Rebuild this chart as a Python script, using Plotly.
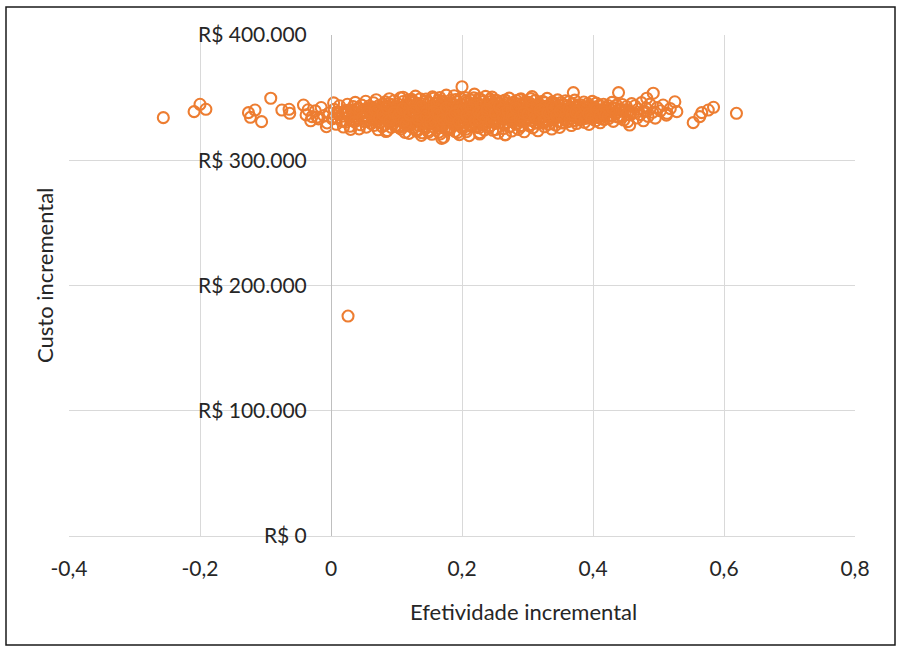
import plotly.graph_objects as go

# Incremental effectiveness (x) and incremental cost in thousands of R$ (y),
# one entry per probabilistic simulation; rows of the two lists line up.
effect = [
    # far left tail
    -0.256, -0.209, -0.200, -0.191, -0.126, -0.123, -0.116, -0.106, -0.092, -0.075,
    -0.064, -0.063, -0.042, -0.029, -0.007,
    # -0.04 .. 0.00
    -0.038, -0.031, -0.024, -0.019, -0.015, -0.011, -0.006, -0.003, -0.035, -0.021,
    # 0.00 .. 0.02
    0.002, 0.005, 0.008, 0.011, 0.013, 0.016, 0.018, 0.004, 0.009, 0.019,
    # 0.02 .. 0.04
    0.021, 0.023, 0.025, 0.027, 0.029, 0.031, 0.033, 0.035, 0.037, 0.039,
    0.024, 0.030, 0.034, 0.038,
    # 0.04 .. 0.06
    0.041, 0.042, 0.044, 0.045, 0.047, 0.048, 0.050, 0.051, 0.053, 0.054,
    0.055, 0.056, 0.057, 0.058, 0.059, 0.043, 0.049, 0.052,
    # 0.06 .. 0.08
    0.061, 0.062, 0.063, 0.064, 0.065, 0.066, 0.067, 0.068, 0.069, 0.070,
    0.071, 0.072, 0.073, 0.074, 0.075, 0.076, 0.077, 0.078, 0.079, 0.060,
    0.066, 0.072,
    # 0.08 .. 0.10
    0.080, 0.081, 0.082, 0.083, 0.084, 0.085, 0.086, 0.087, 0.088, 0.089,
    0.090, 0.091, 0.092, 0.093, 0.094, 0.095, 0.096, 0.097, 0.098, 0.099,
    0.081, 0.084, 0.088, 0.091, 0.095, 0.098,
    # 0.10 .. 0.12
    0.100, 0.101, 0.102, 0.103, 0.104, 0.105, 0.106, 0.107, 0.108, 0.109,
    0.110, 0.111, 0.112, 0.113, 0.114, 0.115, 0.116, 0.117, 0.118, 0.119,
    0.101, 0.104, 0.107, 0.110, 0.113, 0.116, 0.119, 0.106,
    # 0.12 .. 0.14
    0.120, 0.121, 0.122, 0.123, 0.124, 0.125, 0.126, 0.127, 0.128, 0.129,
    0.130, 0.131, 0.132, 0.133, 0.134, 0.135, 0.136, 0.137, 0.138, 0.139,
    0.121, 0.124, 0.126, 0.128, 0.131, 0.133, 0.135, 0.137, 0.139, 0.123,
    # 0.14 .. 0.16
    0.140, 0.141, 0.142, 0.143, 0.144, 0.145, 0.146, 0.147, 0.148, 0.149,
    0.150, 0.151, 0.152, 0.153, 0.154, 0.155, 0.156, 0.157, 0.158, 0.159,
    0.141, 0.143, 0.145, 0.147, 0.149, 0.151, 0.153, 0.155, 0.157, 0.144,
    0.150, 0.156,
    # 0.16 .. 0.18
    0.160, 0.161, 0.162, 0.163, 0.164, 0.165, 0.166, 0.167, 0.168, 0.169,
    0.170, 0.171, 0.172, 0.173, 0.174, 0.175, 0.176, 0.177, 0.178, 0.179,
    0.161, 0.162, 0.164, 0.165, 0.167, 0.168, 0.170, 0.171, 0.173, 0.174,
    0.176, 0.177, 0.169, 0.178,
    # 0.18 .. 0.20
    0.180, 0.181, 0.182, 0.183, 0.184, 0.185, 0.186, 0.187, 0.188, 0.189,
    0.190, 0.191, 0.192, 0.193, 0.194, 0.195, 0.196, 0.197, 0.198, 0.199,
    0.181, 0.182, 0.184, 0.185, 0.187, 0.188, 0.190, 0.191, 0.193, 0.194,
    0.196, 0.197, 0.183, 0.198,
    # 0.20 .. 0.22
    0.200, 0.201, 0.202, 0.203, 0.204, 0.205, 0.206, 0.207, 0.208, 0.209,
    0.210, 0.211, 0.212, 0.213, 0.214, 0.215, 0.216, 0.217, 0.218, 0.219,
    0.201, 0.203, 0.204, 0.206, 0.207, 0.209, 0.210, 0.212, 0.213, 0.215,
    0.216, 0.218, 0.205, 0.211,
    # 0.22 .. 0.24
    0.220, 0.221, 0.222, 0.223, 0.224, 0.225, 0.226, 0.227, 0.228, 0.229,
    0.230, 0.231, 0.232, 0.233, 0.234, 0.235, 0.236, 0.237, 0.238, 0.239,
    0.221, 0.222, 0.224, 0.225, 0.227, 0.228, 0.230, 0.231, 0.233, 0.234,
    0.236, 0.237, 0.226, 0.238,
    # 0.24 .. 0.26
    0.240, 0.241, 0.242, 0.243, 0.244, 0.245, 0.246, 0.247, 0.248, 0.249,
    0.250, 0.251, 0.252, 0.253, 0.254, 0.255, 0.256, 0.257, 0.258, 0.259,
    0.241, 0.243, 0.244, 0.246, 0.247, 0.249, 0.251, 0.252, 0.254, 0.256,
    0.257, 0.248,
    # 0.26 .. 0.28
    0.260, 0.261, 0.262, 0.263, 0.264, 0.265, 0.266, 0.267, 0.268, 0.269,
    0.270, 0.271, 0.272, 0.273, 0.274, 0.275, 0.276, 0.277, 0.278, 0.279,
    0.261, 0.263, 0.265, 0.266, 0.268, 0.270, 0.272, 0.274, 0.276, 0.278,
    # 0.28 .. 0.30
    0.280, 0.281, 0.282, 0.283, 0.284, 0.285, 0.286, 0.287, 0.288, 0.289,
    0.290, 0.291, 0.292, 0.293, 0.294, 0.295, 0.296, 0.297, 0.298, 0.299,
    0.281, 0.283, 0.285, 0.286, 0.288, 0.290, 0.292, 0.294, 0.296, 0.298,
    # 0.30 .. 0.32
    0.300, 0.301, 0.302, 0.303, 0.304, 0.305, 0.306, 0.307, 0.308, 0.309,
    0.310, 0.311, 0.312, 0.313, 0.314, 0.315, 0.316, 0.317, 0.318, 0.319,
    0.301, 0.303, 0.305, 0.307, 0.309, 0.312, 0.314, 0.317,
    # 0.32 .. 0.34
    0.320, 0.321, 0.322, 0.323, 0.324, 0.325, 0.326, 0.327, 0.328, 0.329,
    0.330, 0.331, 0.332, 0.333, 0.334, 0.335, 0.336, 0.337, 0.338, 0.339,
    0.321, 0.324, 0.327, 0.330, 0.333, 0.336,
    # 0.34 .. 0.36
    0.340, 0.341, 0.342, 0.343, 0.344, 0.345, 0.346, 0.347, 0.348, 0.349,
    0.350, 0.351, 0.352, 0.353, 0.354, 0.355, 0.356, 0.357, 0.358, 0.359,
    0.343, 0.352,
    # 0.36 .. 0.38
    0.360, 0.361, 0.362, 0.363, 0.364, 0.365, 0.366, 0.367, 0.368, 0.369,
    0.370, 0.371, 0.372, 0.373, 0.374, 0.375, 0.376, 0.377, 0.378, 0.379,
    # 0.38 .. 0.40
    0.380, 0.381, 0.382, 0.384, 0.385, 0.386, 0.387, 0.389, 0.390, 0.391,
    0.392, 0.393, 0.394, 0.395, 0.396, 0.397, 0.398, 0.399,
    # 0.40 .. 0.42
    0.401, 0.402, 0.404, 0.405, 0.407, 0.408, 0.410, 0.411, 0.413, 0.414,
    0.416, 0.417, 0.418, 0.419,
    # 0.42 .. 0.44
    0.421, 0.423, 0.424, 0.426, 0.428, 0.429, 0.431, 0.433, 0.434, 0.436,
    0.437, 0.439,
    # 0.44 .. 0.46
    0.441, 0.443, 0.445, 0.447, 0.449, 0.451, 0.453, 0.455, 0.457, 0.459,
    # 0.46 .. 0.52
    0.462, 0.464, 0.467, 0.469, 0.472, 0.474, 0.477, 0.479,
    0.481, 0.484, 0.487, 0.491, 0.495, 0.498,
    0.503, 0.507, 0.512, 0.518,
    # far right tail and scattered extremes
    0.619, 0.584, 0.576, 0.566, 0.563, 0.553, 0.525, 0.528, 0.513, 0.492,
    0.482, 0.439, 0.370, 0.456, 0.200, 0.266, 0.169,
    # dense centre, second pass
    0.064, 0.078, 0.092, 0.104, 0.117, 0.128, 0.139, 0.151, 0.163, 0.174,
    0.186, 0.197, 0.208, 0.219, 0.231, 0.243, 0.254, 0.266, 0.277, 0.289,
    0.301, 0.313, 0.324, 0.336, 0.348, 0.359, 0.371, 0.383, 0.394, 0.406,
    0.071, 0.086, 0.099, 0.111, 0.124, 0.135, 0.146, 0.158, 0.169, 0.181,
    0.192, 0.203, 0.214, 0.226, 0.237, 0.249, 0.260, 0.272, 0.283, 0.295,
    0.306, 0.318, 0.330, 0.341, 0.353, 0.365, 0.377, 0.388, 0.400, 0.412,
    # dense centre, third pass
    0.003, 0.010, 0.017, 0.022, 0.028, 0.036, 0.043, 0.048, 0.055, 0.061,
    0.067, 0.074, 0.079, 0.085, 0.090, 0.096, 0.102, 0.109, 0.114, 0.120,
    0.126, 0.133, 0.138, 0.145, 0.152, 0.157, 0.164, 0.171, 0.176, 0.183,
    0.189, 0.195, 0.202, 0.207, 0.213, 0.220, 0.225, 0.232, 0.238, 0.245,
    0.251, 0.257, 0.263, 0.270, 0.276, 0.282, 0.288, 0.294, 0.301, 0.307,
    0.312, 0.319, 0.325, 0.331, 0.338, 0.344, 0.350, 0.356, 0.363, 0.368,
    0.374, 0.381, 0.387, 0.393, 0.398, 0.405, 0.411, 0.416, 0.423, 0.429,
    0.435, 0.441, 0.447, 0.452, 0.458,
    # low-cost simulation
    0.026,
]

cost_k = [
    # far left tail
    334.0, 338.8, 344.7, 340.7, 338.0, 334.3, 340.1, 330.8, 349.5, 340.1,
    340.7, 337.5, 344.1, 334.8, 326.8,
    # -0.04 .. 0.00
    336.2, 331.5, 339.4, 333.0, 342.1, 335.6, 329.8, 337.9, 340.3, 334.4,
    # 0.00 .. 0.02
    333.1, 340.6, 328.7, 336.9, 343.5, 331.2, 337.4, 345.8, 334.0, 326.5,
    # 0.02 .. 0.04
    338.2, 330.4, 344.7, 334.9, 327.1, 340.0, 336.3, 331.8, 346.2, 333.5,
    339.7, 324.6, 342.8, 335.1,
    # 0.04 .. 0.06
    332.7, 341.9, 336.4, 328.3, 344.0, 334.8, 330.9, 338.6, 347.1, 326.4,
    335.3, 340.8, 331.6, 343.3, 337.2, 325.0, 339.5, 333.9,
    # 0.06 .. 0.08
    336.8, 329.5, 342.4, 333.2, 345.9, 327.8, 339.1, 334.5, 348.3, 331.0,
    337.7, 324.3, 343.6, 335.9, 330.2, 341.2, 336.1, 326.9, 344.8, 338.4,
    332.3, 340.5,
    # 0.08 .. 0.10
    335.4, 341.7, 328.1, 346.6, 332.8, 338.9, 323.7, 343.0, 334.2, 349.1,
    330.6, 337.3, 326.2, 344.4, 339.8, 331.9, 347.5, 335.0, 327.4, 341.0,
    333.6, 322.9, 345.2, 336.7, 329.3, 340.2,
    # 0.10 .. 0.12
    338.1, 331.3, 345.0, 327.0, 341.5, 335.7, 349.8, 324.8, 339.3, 333.1,
    346.9, 329.9, 336.5, 322.2, 343.8, 332.4, 340.7, 327.6, 348.1, 334.6,
    342.2, 326.1, 337.9, 350.3, 330.0, 344.6, 321.4, 336.0,
    # 0.12 .. 0.14
    335.2, 343.1, 328.4, 339.6, 347.7, 325.9, 333.8, 341.9, 330.7, 351.2,
    337.0, 323.1, 345.4, 332.1, 340.3, 327.3, 349.0, 334.9, 319.8, 342.7,
    336.2, 329.1, 346.3, 338.5, 324.5, 344.2, 331.4, 339.0, 321.9, 348.6,
    # 0.14 .. 0.16
    333.0, 344.9, 337.8, 326.6, 341.4, 348.9, 330.3, 336.4, 323.6, 346.0,
    339.2, 328.9, 343.3, 335.5, 320.7, 350.6, 332.6, 340.9, 326.0, 345.7,
    338.0, 329.7, 347.3, 334.1, 322.5, 342.0, 336.9, 331.5, 349.5, 325.3,
    340.1, 333.4,
    # 0.16 .. 0.18
    337.4, 329.0, 345.6, 334.3, 341.1, 322.4, 350.1, 331.7, 339.9, 326.8,
    347.2, 335.8, 318.3, 343.7, 330.5, 338.7, 352.0, 324.2, 336.6, 344.3,
    328.0, 340.5, 333.3, 348.0, 321.0, 342.6, 335.1, 327.5, 346.5, 331.9,
    339.4, 325.1, 343.9, 334.6,
    # 0.18 .. 0.20
    341.8, 333.5, 347.9, 326.3, 338.3, 344.5, 330.8, 336.0, 351.5, 323.0,
    340.0, 332.2, 346.8, 328.6, 337.1, 343.0, 320.4, 335.3, 349.4, 331.0,
    339.6, 325.7, 345.1, 334.0, 341.3, 327.9, 348.5, 336.8, 322.1, 343.4,
    330.1, 338.6, 345.8, 333.7,
    # 0.20 .. 0.22
    336.3, 344.0, 328.2, 340.8, 333.1, 350.0, 324.7, 338.0, 346.4, 331.3,
    342.5, 319.6, 335.4, 348.2, 327.0, 339.3, 344.9, 330.4, 336.9, 352.8,
    325.5, 341.6, 334.4, 347.6, 322.8, 338.9, 332.5, 345.3, 328.9, 343.1,
    336.1, 349.8, 330.0, 340.4,
    # 0.22 .. 0.24
    339.0, 331.6, 345.5, 326.7, 342.3, 335.0, 349.3, 322.0, 337.6, 344.1,
    329.8, 340.9, 333.9, 347.0, 324.1, 338.2, 351.0, 330.7, 343.6, 335.7,
    327.2, 346.1, 332.0, 340.2, 320.9, 348.7, 336.4, 343.8, 328.4, 339.7,
    334.8, 345.0, 325.9, 341.5,
    # 0.24 .. 0.26
    334.2, 342.9, 327.5, 346.8, 338.4, 331.1, 350.4, 323.9, 340.6, 336.0,
    344.3, 329.4, 347.9, 333.3, 339.8, 321.6, 345.7, 337.2, 330.0, 342.1,
    326.0, 348.8, 335.6, 341.8, 332.7, 344.6, 324.4, 339.1, 347.4, 329.8,
    336.7, 343.2,
    # 0.26 .. 0.28
    340.0, 332.9, 347.3, 325.2, 336.5, 343.9, 320.5, 338.8, 345.6, 330.3,
    341.7, 334.7, 349.6, 327.1, 337.9, 344.7, 323.3, 339.5, 331.8, 346.2,
    335.3, 342.4, 328.5, 348.0, 333.6, 340.7, 326.4, 344.0, 337.0, 330.9,
    # 0.28 .. 0.30
    336.2, 343.4, 329.1, 347.7, 333.0, 340.3, 324.6, 345.1, 338.1, 331.4,
    349.0, 327.8, 341.2, 335.9, 344.5, 322.7, 339.3, 346.9, 332.3, 337.5,
    343.0, 328.7, 341.9, 334.5, 348.4, 326.9, 338.7, 345.3, 331.0, 340.1,
    # 0.30 .. 0.32
    341.4, 334.0, 346.3, 328.3, 338.9, 344.8, 331.7, 350.8, 325.8, 337.3,
    342.8, 333.2, 347.8, 329.6, 340.5, 336.1, 323.5, 345.0, 338.4, 332.5,
    343.7, 327.4, 349.2, 335.1, 340.9, 330.1, 344.2, 337.8,
    # 0.32 .. 0.34
    337.0, 343.6, 330.6, 347.1, 334.4, 340.6, 326.7, 345.9, 338.5, 332.0,
    349.4, 336.3, 342.0, 328.8, 344.3, 335.0, 339.7, 324.9, 346.6, 333.8,
    341.1, 329.5, 343.0, 337.4, 331.2, 345.4,
    # 0.34 .. 0.36
    339.4, 333.4, 345.2, 328.0, 341.8, 336.7, 348.2, 331.0, 343.9, 326.2,
    338.0, 346.0, 334.8, 340.9, 329.7, 344.5, 337.1, 332.6, 347.5, 335.9,
    342.3, 330.3,
    # 0.36 .. 0.38
    336.5, 343.3, 330.8, 346.7, 338.9, 333.0, 341.5, 327.7, 345.0, 335.2,
    339.8, 331.6, 348.0, 337.4, 342.9, 329.3, 344.1, 334.1, 340.3, 332.2,
    # 0.38 .. 0.40
    338.7, 344.2, 332.9, 340.8, 335.6, 346.5, 330.2, 342.6, 337.0, 333.8,
    345.3, 339.2, 328.6, 343.5, 336.3, 341.0, 334.4, 347.0,
    # 0.40 .. 0.42
    336.0, 342.5, 331.4, 345.6, 338.3, 334.0, 343.9, 329.9, 340.2, 336.8,
    344.7, 332.5, 339.5, 341.9,
    # 0.42 .. 0.44
    338.0, 343.7, 333.2, 340.6, 335.5, 346.2, 331.0, 341.8, 337.3, 344.0,
    334.6, 339.9,
    # 0.44 .. 0.46
    341.0, 335.3, 344.5, 332.1, 338.6, 342.9, 330.8, 339.4, 336.2, 345.2,
    # 0.46 .. 0.52
    337.8, 343.5, 333.7, 340.9, 336.4, 346.0, 331.5, 339.0,
    341.6, 335.0, 344.8, 338.3, 333.6, 342.0,
    339.5, 344.1, 336.0, 341.2,
    # far right tail and scattered extremes
    337.5, 342.3, 340.1, 338.0, 334.8, 330.0, 346.7, 338.8, 337.5, 353.5,
    349.5, 354.0, 354.0, 328.1, 358.7, 320.2, 317.5,
    # dense centre, second pass
    335.8, 337.1, 334.6, 336.9, 333.4, 338.2, 335.1, 332.7, 337.6, 334.0,
    336.4, 338.9, 333.8, 335.5, 337.9, 334.3, 336.1, 338.4, 333.2, 335.9,
    337.3, 334.8, 336.6, 338.1, 335.2, 337.0, 336.8, 334.5, 338.0, 336.3,
    339.2, 332.0, 338.5, 331.6, 339.7, 332.4, 338.8, 331.3, 340.1, 332.9,
    339.0, 331.0, 340.4, 332.2, 339.5, 331.8, 340.0, 332.6, 339.9, 331.5,
    340.3, 332.1, 339.3, 333.0, 340.6, 332.8, 339.1, 333.4, 340.2, 333.6,
    # dense centre, third pass
    333.9, 338.6, 331.2, 339.8, 335.4, 330.6, 341.3, 334.1, 337.8, 329.4,
    340.2, 333.5, 336.9, 342.0, 331.8, 338.1, 334.7, 341.0, 329.0, 336.3,
    339.5, 333.2, 342.6, 335.0, 330.4, 338.8, 336.0, 332.6, 341.7, 334.3,
    337.4, 330.9, 339.9, 335.7, 342.9, 332.0, 338.3, 334.9, 340.7, 331.4,
    337.2, 343.1, 333.7, 339.4, 335.3, 341.5, 332.8, 338.0, 336.6, 343.4,
    334.2, 340.0, 331.9, 337.7, 342.3, 335.6, 339.2, 333.0, 341.2, 336.8,
    338.6, 334.5, 342.5, 337.0, 333.3, 340.6, 336.2, 338.9, 335.1, 341.9,
    337.5, 334.0, 340.3, 336.5, 338.2,
    # low-cost simulation
    175.6,
]

cost = [v * 1000 for v in cost_k]

x_ticks = [-0.4, -0.2, 0.0, 0.2, 0.4, 0.6, 0.8]
x_tick_text = ["-0,4", "-0,2", "0", "0,2", "0,4", "0,6", "0,8"]
y_ticks = [0, 100000, 200000, 300000, 400000]
y_tick_text = ["R$ 0", "R$ 100.000", "R$ 200.000", "R$ 300.000", "R$ 400.000"]

ORANGE = "#ED7D31"
GRID = "#D9D9D9"
TEXT = "#262626"
FONT = "Lato"
FS = 21
FS_TITLE = 22

fig = go.Figure(
    go.Scatter(
        x=effect,
        y=cost,
        mode="markers",
        marker=dict(
            symbol="circle-open",
            size=11,
            color=ORANGE,
            line=dict(width=2.1, color=ORANGE),
        ),
        hoverinfo="x+y",
        showlegend=False,
    )
)

# plot-area geometry in pixels (for the frame drawn around the whole chart)
L, R, T, B = 69, 855, 35, 536
W, H = 898, 648


def px_x(p):
    return (p - L) / (R - L)


def px_y(p):
    return (B - p) / (B - T)


fig.update_layout(
    width=W,
    height=H,
    margin=dict(l=L, r=W - R, t=T, b=H - B, pad=0),
    paper_bgcolor="white",
    plot_bgcolor="white",
    font=dict(family=FONT, size=FS, color=TEXT),
    xaxis=dict(
        range=[-0.4, 0.8],
        tickvals=x_ticks,
        ticktext=x_tick_text,
        showgrid=True,
        gridcolor=GRID,
        gridwidth=1,
        zeroline=False,
        showline=True,
        linecolor=GRID,
        linewidth=1,
        ticks="",
        ticklabelstandoff=14,
        tickfont=dict(family=FONT, size=FS, color=TEXT),
        automargin=False,
        fixedrange=True,
    ),
    yaxis=dict(
        range=[0, 400000],
        tickvals=y_ticks,
        ticktext=y_tick_text,
        showgrid=True,
        gridcolor=GRID,
        gridwidth=1,
        zeroline=False,
        showline=True,
        linecolor="#BFBFBF",
        linewidth=1,
        anchor="free",
        position=(0 - (-0.4)) / 1.2,
        ticks="",
        ticklabelstandoff=20,
        tickfont=dict(family=FONT, size=FS, color=TEXT),
        automargin=False,
        fixedrange=True,
    ),
    shapes=[
        dict(
            type="rect",
            xref="paper",
            yref="paper",
            x0=px_x(6),
            x1=px_x(895),
            y0=px_y(645),
            y1=px_y(7),
            line=dict(color="#1a1a1a", width=1.5),
            fillcolor="rgba(0,0,0,0)",
            layer="above",
        )
    ],
    annotations=[
        dict(
            text="Efetividade incremental",
            xref="paper",
            yref="paper",
            x=px_x(523),
            y=px_y(611),
            showarrow=False,
            xanchor="center",
            yanchor="middle",
            font=dict(family=FONT, size=FS_TITLE, color=TEXT),
        ),
        dict(
            text="Custo incremental",
            xref="paper",
            yref="paper",
            x=px_x(44),
            y=px_y(276),
            showarrow=False,
            textangle=-90,
            xanchor="center",
            yanchor="middle",
            font=dict(family=FONT, size=FS_TITLE, color=TEXT),
        ),
    ],
)

fig.write_html("out.html")
